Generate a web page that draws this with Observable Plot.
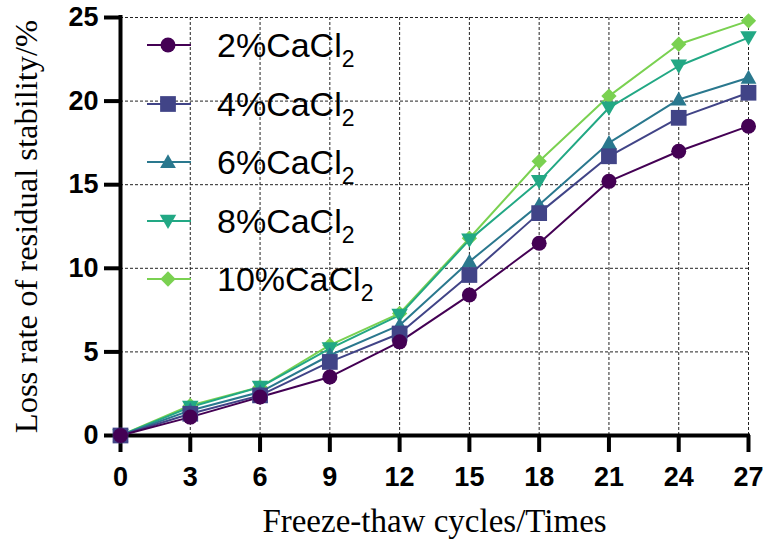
<!DOCTYPE html>
<html>
<head>
<meta charset="utf-8">
<script src="https://cdn.jsdelivr.net/npm/d3@7"></script>
<script src="https://cdn.jsdelivr.net/npm/@observablehq/plot@0.6"></script>
<style>
  html, body { margin: 0; padding: 0; background: #fff; }
  #wrap { position: relative; width: 766px; height: 542px; overflow: hidden; }
  #legend { position: absolute; left: 147px; top: 16px; font-family: "Liberation Sans", Arial, sans-serif; font-size: 34px; color: #000; }
  #legend .row { display: flex; align-items: center; height: 58.5px; }
  #legend svg { display: block; margin-right: 26px; }
  #legend .lab { line-height: 40px; position: relative; top: 2px; white-space: nowrap; }
  #legend sub { font-size: 23px; vertical-align: baseline; position: relative; top: 10px; }
</style>
</head>
<body>
<div id="wrap"><div id="legend"></div></div>
<script>
// ---- data ----
const cycles = [0, 3, 6, 9, 12, 15, 18, 21, 24, 27];
const seriesNames = ["2%CaCl2", "4%CaCl2", "6%CaCl2", "8%CaCl2", "10%CaCl2"];
const loss2 = [0, 1.1, 2.3, 3.5, 5.6, 8.4, 11.5, 15.2, 17.0, 18.5];
const loss4 = [0, 1.3, 2.4, 4.4, 6.1, 9.6, 13.3, 16.7, 19.0, 20.5];
const loss6 = [0, 1.5, 2.6, 4.8, 6.6, 10.4, 13.8, 17.5, 20.1, 21.4];
const loss8 = [0, 1.7, 2.9, 5.2, 7.2, 11.7, 15.2, 19.6, 22.1, 23.8];
const loss10 = [0, 1.8, 2.9, 5.4, 7.3, 11.8, 16.4, 20.3, 23.4, 24.8];
const xTicks = [0, 3, 6, 9, 12, 15, 18, 21, 24, 27];
const yTicks = [0, 5, 10, 15, 20, 25];
const xTitle = "Freeze-thaw cycles/Times";
const yTitle = "Loss rate of residual stability/%";
const colors = ["#440154", "#414487", "#2a788e", "#22a884", "#7ad151"];

// ---- symbols ----
const mk = f => ({ draw(ctx, size) { const r = Math.sqrt(size / Math.PI); f(ctx, r); } });
const symbols = [
  mk((c, r) => { c.moveTo(r, 0); c.arc(0, 0, r, 0, 2 * Math.PI); c.closePath(); }),
  mk((c, r) => { const s = r * 1.05; c.moveTo(-s, -s); c.lineTo(s, -s); c.lineTo(s, s); c.lineTo(-s, s); c.closePath(); }),
  mk((c, r) => { const w = r * 1.05; c.moveTo(0, -r * 1.05); c.lineTo(w, r * 0.8); c.lineTo(-w, r * 0.8); c.closePath(); }),
  mk((c, r) => { const w = r * 1.1; c.moveTo(0, r * 1.05); c.lineTo(w, -r * 0.85); c.lineTo(-w, -r * 0.85); c.closePath(); }),
  mk((c, r) => { const s = r * 1.02; c.moveTo(0, -s); c.lineTo(s, 0); c.lineTo(0, s); c.lineTo(-s, 0); c.closePath(); })
];

const allSeries = [loss2, loss4, loss6, loss8, loss10];
const rows = [];
for (let s = allSeries.length - 1; s >= 0; s--) {
  cycles.forEach((c, i) => rows.push({ series: seriesNames[s], cycle: c, loss: allSeries[s][i] }));
}

const plot = Plot.plot({
  width: 766,
  height: 542,
  marginLeft: 120,
  marginRight: 18,
  marginTop: 17,
  marginBottom: 107,
  style: { background: "white", overflow: "visible" },
  x: { domain: [0, 27] },
  y: { domain: [0, 25] },
  color: { domain: seriesNames, range: colors },
  symbol: { domain: seriesNames, range: symbols },
  marks: [
    Plot.gridX(xTicks.filter(d => d > 0), { stroke: "#222", strokeOpacity: 1, strokeWidth: 1, strokeDasharray: "3,2" }),
    Plot.gridY(yTicks.filter(d => d > 0), { stroke: "#222", strokeOpacity: 1, strokeWidth: 1, strokeDasharray: "3,2" }),
    Plot.axisX(xTicks, { tickSize: 17, tickPadding: 14, strokeWidth: 4, fontSize: 27, fontWeight: "bold", fontFamily: "Liberation Sans, Arial, sans-serif", fill: "#000", label: null }),
    Plot.axisY(yTicks, { tickSize: 16, tickPadding: 6, strokeWidth: 4, fontSize: 27, fontWeight: "bold", fontFamily: "Liberation Sans, Arial, sans-serif", fill: "#000", label: null }),
    Plot.ruleX([0], { strokeWidth: 4, stroke: "#000", strokeLinecap: "square" }),
    Plot.ruleY([0], { strokeWidth: 4, stroke: "#000", strokeLinecap: "square" }),
    Plot.line(rows, { x: "cycle", y: "loss", z: "series", stroke: "series", strokeWidth: 2 }),
    Plot.dot(rows, { x: "cycle", y: "loss", symbol: "series", fill: "series", r: 7.5, stroke: "none" }),
    Plot.text([xTitle], { text: d => d, frameAnchor: "bottom", textAnchor: "middle", dy: 86, lineAnchor: "middle", fontSize: 33, fontFamily: "Liberation Serif, Times New Roman, serif", fill: "#000" }),
    Plot.text([yTitle], { text: d => d, frameAnchor: "left", textAnchor: "middle", rotate: -90, dx: -94, lineAnchor: "middle", fontSize: 32.5, fontFamily: "Liberation Serif, Times New Roman, serif", fill: "#000" })
  ]
});
const wrap = document.getElementById("wrap");
wrap.insertBefore(plot, wrap.firstChild);

// ---- legend ----
const legend = document.getElementById("legend");
seriesNames.forEach((name, i) => {
  const row = document.createElement("div");
  row.className = "row";
  const sw = d3.create("svg").attr("width", 44).attr("height", 20);
  sw.append("line").attr("x1", 0).attr("x2", 44).attr("y1", 10).attr("y2", 10).attr("stroke", colors[i]).attr("stroke-width", 2);
  const p = d3.path();
  symbols[i].draw(p, 7.5 * 7.5 * Math.PI);
  sw.append("path").attr("d", p.toString()).attr("transform", "translate(21,10)").attr("fill", colors[i]);
  row.appendChild(sw.node());
  const lab = document.createElement("span");
  lab.className = "lab";
  lab.innerHTML = name.slice(0, -1) + "<sub>" + name.slice(-1) + "</sub>";
  row.appendChild(lab);
  legend.appendChild(row);
});
</script>
</body>
</html>
